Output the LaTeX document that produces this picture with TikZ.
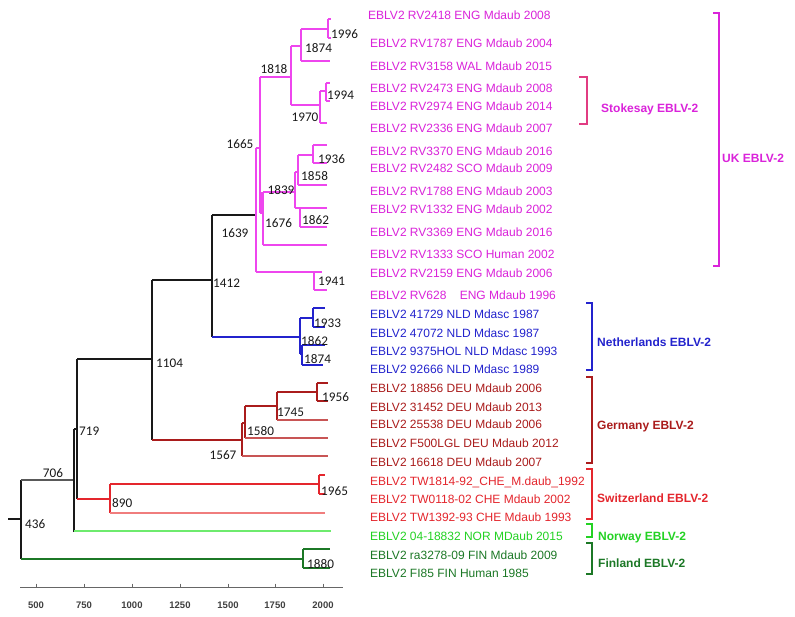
\documentclass[tikz,border=0pt]{standalone}
\usepackage{fontspec}
\setmainfont{Liberation Sans}
\newfontfamily\carl{Carlito}
\definecolor{ukm}{RGB}{218,35,218}
\definecolor{ukl}{RGB}{238,70,238}
\definecolor{nlb}{RGB}{35,35,205}
\definecolor{der}{RGB}{170,28,28}
\definecolor{derl}{RGB}{200,85,85}
\definecolor{chr}{RGB}{228,38,45}
\definecolor{chrl}{RGB}{240,125,125}
\definecolor{nog}{RGB}{35,210,35}
\definecolor{nogl}{RGB}{110,235,110}
\definecolor{fig}{RGB}{28,120,38}
\definecolor{stk}{RGB}{225,60,130}
\definecolor{treec}{RGB}{25,25,25}
\definecolor{yrc}{RGB}{25,25,25}
\tikzset{
  br/.style={line width=1.15pt},
  leaf/.style={anchor=base west, inner sep=0pt, font=\fontsize{12}{14}\selectfont},
  yr/.style={anchor=base west, inner sep=0pt, text=yrc, font=\carl\fontsize{13.2}{15}\selectfont},
  yrc/.style={anchor=base, inner sep=0pt, text=yrc, font=\carl\fontsize{13.2}{15}\selectfont},
  grp/.style={anchor=base west, inner sep=0pt, font=\bfseries\fontsize{12}{14}\selectfont},
  brk/.style={line width=1.3pt},
  tick/.style={anchor=base, inner sep=0pt, text=black!75, font=\bfseries\fontsize{9.5}{11}\selectfont},
}
\begin{document}
\begin{tikzpicture}[x=1pt,y=-1pt]
\useasboundingbox[fill=white] (0,0) rectangle (795,616);

% ---------------- tree: backbone ----------------
\draw[treec, line width=2.2pt] (8,519) coordinate (rootstub) -- (21,519) coordinate (n436);
\draw[br, treec] (21,480) -- (21,559);
\draw[br, black!65] (21,480) -- (74,480) coordinate (n706);
\draw[br, treec] (74,429) -- (74,532);
\draw[br, treec] (74,429) -- (77,429) coordinate (n719);
\draw[br, treec] (77,359) -- (77,499);
% Norway
\draw[br, nogl] (74,531) -- (331,531) coordinate (tNOR);
% Finland
\draw[fig, line width=1.7pt] (21,559) -- (303,559) coordinate (n1880);
\draw[br, fig] (303,549) -- (303,568);
\draw[br, fig] (303,549) -- (330,549) coordinate (tFIN1);
\draw[br, fig] (303,568) -- (330,568) coordinate (tFIN2);
% Switzerland
\draw[br, chr] (77,499) -- (110,499) coordinate (n890);
\draw[br, chr] (110,484) -- (110,513);
\draw[br, chr] (110,484) -- (319,484) coordinate (n1965);
\draw[br, chrl] (110,513) -- (325,513) coordinate (tCH3);
\draw[br, chr] (319,475) -- (319,494);
\draw[br, chr] (319,475) -- (325,475) coordinate (tCH1);
\draw[br, chr] (319,494) -- (325,494) coordinate (tCH2);
% 1104
\draw[br, treec] (77,359) -- (152,359) coordinate (n1104);
\draw[br, treec] (152,280) -- (152,440);
% Germany
\draw[der, line width=1.6pt] (152,440) -- (242,440) coordinate (n1567);
\draw[br, der] (242,423) -- (242,456);
\draw[br, derl] (242,456) -- (328,456) coordinate (tDE5);
\draw[br, der] (242,423) -- (245,423) coordinate (n1580);
\draw[br, der] (245,406) -- (245,438);
\draw[br, derl] (245,438) -- (328,438) coordinate (tDE4);
\draw[br, der] (245,406) -- (277,406) coordinate (n1745);
\draw[br, der] (277,392) -- (277,420);
\draw[br, derl] (277,420) -- (328,420) coordinate (tDE3);
\draw[br, der] (277,392) -- (317,392) coordinate (n1956);
\draw[br, der] (317,383) -- (317,401);
\draw[br, der] (317,383) -- (328,383) coordinate (tDE1);
\draw[br, der] (317,401) -- (328,401) coordinate (tDE2);
% 1412
\draw[br, treec] (152,280) -- (212,280) coordinate (n1412);
\draw[br, treec] (212,215) -- (212,337);
% Netherlands
\draw[br, nlb] (212,337) -- (300,337) coordinate (n1862b);
\draw[br, nlb] (300,318) -- (300,354);
\draw[br, nlb] (300,318) -- (313,318) coordinate (n1933);
\draw[br, nlb] (313,308) -- (313,327);
\draw[br, nlb] (313,308) -- (325,308) coordinate (tNL1);
\draw[br, nlb] (313,327) -- (325,327) coordinate (tNL2);
\draw[br, nlb] (300,354) -- (302,354) coordinate (n1874b);
\draw[br, nlb] (302,345) -- (302,365);
\draw[br, nlb] (302,345) -- (325,345) coordinate (tNL3);
\draw[br, nlb] (302,365) -- (323,365) coordinate (tNL4);
% UK
\draw[br, treec] (212,215) -- (256,215) coordinate (n1639);
\draw[br, ukl] (256,148) -- (256,272);
\draw[br, ukl] (256,272) -- (314,272) coordinate (n1941);
\draw[br, ukl] (314,272) -- (314,290);
\draw[br, ukl] (314,272) -- (322,272) coordinate (tUK13);
\draw[br, ukl] (314,290) -- (327,290) coordinate (tUK14);
\draw[br, ukl] (256,148) -- (260,148) coordinate (n1665);
\draw[br, ukl] (260,77) -- (260,213);
\draw[br, ukl] (260,77) -- (291,77) coordinate (n1818);
\draw[br, ukl] (291,46) -- (291,105);
\draw[br, ukl] (291,46) -- (301,46) coordinate (n1874);
\draw[br, ukl] (301,29) -- (301,61);
\draw[br, ukl] (301,61) -- (330,61) coordinate (tUK3);
\draw[br, ukl] (301,29) -- (328,29) coordinate (n1996);
\draw[br, ukl] (328,19) -- (328,38);
\draw[br, ukl] (328,19) -- (331,19) coordinate (tUK1);
\draw[br, ukl] (328,38) -- (331,38) coordinate (tUK2);
\draw[br, ukl] (291,105) -- (320,105) coordinate (n1970);
\draw[br, ukl] (320,91) -- (320,123);
\draw[br, ukl] (320,123) -- (327,123) coordinate (tUK6);
\draw[br, ukl] (320,91) -- (326,91) coordinate (n1994);
\draw[br, ukl] (326,83) -- (326,101);
\draw[br, ukl] (326,83) -- (330,83) coordinate (tUK4);
\draw[br, ukl] (326,101) -- (330,101) coordinate (tUK5);
\draw[br, ukl] (260,213) -- (263,213) coordinate (n1676);
\draw[ukl, line width=1.8pt] (262,192) -- (262,213);
\draw[br, ukl] (263,192) -- (263,245);
\draw[br, ukl] (263,245) -- (327,245) coordinate (tUK12);
\draw[br, ukl] (263,192) -- (295,192) coordinate (n1839);
\draw[br, ukl] (295,172) -- (295,208);
\draw[br, ukl] (295,172) -- (298,172) coordinate (n1858);
\draw[br, ukl] (298,155) -- (298,185);
\draw[br, ukl] (298,185) -- (327,185) coordinate (tUK9);
\draw[br, ukl] (298,155) -- (313,155) coordinate (n1936);
\draw[br, ukl] (313,145) -- (313,163);
\draw[br, ukl] (313,145) -- (327,145) coordinate (tUK7);
\draw[br, ukl] (313,163) -- (327,163) coordinate (tUK8);
\draw[br, ukl] (295,208) -- (300,208) coordinate (n1862);
\draw[br, ukl] (300,208) -- (300,227);
\draw[br, ukl] (300,208) -- (327,208) coordinate (tUK10);
\draw[br, ukl] (300,227) -- (327,227) coordinate (tUK11);

% ---------------- node ages ----------------
\node[yr]  (a1996)  at (331,38.5) {1996};
\node[yr]  (a1874)  at (305,52.5) {1874};
\node[yrc] (a1818)  at (274,73.5) {1818};
\node[yr]  (a1994)  at (327,99.5) {1994};
\node[yrc] (a1970)  at (305,121.5) {1970};
\node[yrc] (a1665)  at (240,148.5) {1665};
\node[yr]  (a1936)  at (318,163.5) {1936};
\node[yr]  (a1858)  at (301,180.5) {1858};
\node[yrc] (a1839)  at (281,194.5) {1839};
\node[yr]  (a1862)  at (302,224.5) {1862};
\node[yr]  (a1676)  at (265,227.5) {1676};
\node[yrc] (a1639)  at (235,237.5) {1639};
\node[yr]  (a1941)  at (318,285.5) {1941};
\node[yr]  (a1412)  at (213,287.5) {1412};
\node[yr]  (a1933)  at (314,327.5) {1933};
\node[yr]  (a1862b) at (301,345.5) {1862};
\node[yr]  (a1874b) at (304,363.5) {1874};
\node[yr]  (a1104)  at (156,367.5) {1104};
\node[yr]  (a1956)  at (322,401.5) {1956};
\node[yr]  (a1745)  at (277,416.5) {1745};
\node[yr]  (a1580)  at (247,435.5) {1580};
\node[yr]  (a719)   at (79,435.5) {719};
\node[yrc] (a1567)  at (223,459.5) {1567};
\node[yrc] (a706)   at (53,477.5) {706};
\node[yr]  (a1965)  at (321,495.5) {1965};
\node[yr]  (a890)   at (112,507.5) {890};
\node[yr]  (a436)   at (25,528.5) {436};
\node[yr]  (a1880)  at (307,568.5) {1880};

% ---------------- axis ----------------
\draw[black!60, line width=0.9pt] (20,587) coordinate (axl) -- (343,587) coordinate (axr);
\foreach \xx/\lab in {36/500,84/750,132/1000,180/1250,228/1500,275/1750,323/2000}{
  \draw[black!60, line width=0.8pt] (\xx,583.5) -- (\xx,587);
  \node[tick] (t\lab) at (\xx,608) {\lab};
}

% ---------------- leaf labels ----------------
\begin{scope}[every node/.style={leaf}]
\node[text=ukm] (l1)  at (368,19.3)  {EBLV2 RV2418 ENG Mdaub 2008};
\node[text=ukm] (l2)  at (370,47.3)  {EBLV2 RV1787 ENG Mdaub 2004};
\node[text=ukm] (l3)  at (370,70.3)  {EBLV2 RV3158 WAL Mdaub 2015};
\node[text=ukm] (l4)  at (370,92.3)  {EBLV2 RV2473 ENG Mdaub 2008};
\node[text=ukm] (l5)  at (370,110.3) {EBLV2 RV2974 ENG Mdaub 2014};
\node[text=ukm] (l6)  at (370,132.3) {EBLV2 RV2336 ENG Mdaub 2007};
\node[text=ukm] (l7)  at (370,155.3) {EBLV2 RV3370 ENG Mdaub 2016};
\node[text=ukm] (l8)  at (370,172.3) {EBLV2 RV2482 SCO Mdaub 2009};
\node[text=ukm] (l9)  at (370,195.3) {EBLV2 RV1788 ENG Mdaub 2003};
\node[text=ukm] (l10) at (370,213.3) {EBLV2 RV1332 ENG Mdaub 2002};
\node[text=ukm] (l11) at (370,236.3) {EBLV2 RV3369 ENG Mdaub 2016};
\node[text=ukm] (l12) at (370,258.3) {EBLV2 RV1333 SCO Human 2002};
\node[text=ukm] (l13) at (370,277.3) {EBLV2 RV2159 ENG Mdaub 2006};
\node[text=ukm] (l14) at (370,299.3) {EBLV2 RV628\hspace{10pt} ENG Mdaub 1996};
\node[text=nlb] (l15) at (370,318.3) {EBLV2 41729 NLD Mdasc 1987};
\node[text=nlb] (l16) at (370,337.3) {EBLV2 47072 NLD Mdasc 1987};
\node[text=nlb] (l17) at (370,355.3) {EBLV2 9375HOL NLD Mdasc 1993};
\node[text=nlb] (l18) at (370,373.3) {EBLV2 92666 NLD Mdasc 1989};
\node[text=der] (l19) at (370,392.3) {EBLV2 18856 DEU Mdaub 2006};
\node[text=der] (l20) at (370,411.3) {EBLV2 31452 DEU Mdaub 2013};
\node[text=der] (l21) at (370,428.3) {EBLV2 25538 DEU Mdaub 2006};
\node[text=der] (l22) at (370,447.3) {EBLV2 F500LGL DEU Mdaub 2012};
\node[text=der] (l23) at (370,466.3) {EBLV2 16618 DEU Mdaub 2007};
\node[text=chr] (l24) at (370,485.3) {EBLV2 TW1814-92\_CHE\_M.daub\_1992};
\node[text=chr] (l25) at (370,503.3) {EBLV2 TW0118-02 CHE Mdaub 2002};
\node[text=chr] (l26) at (370,521.3) {EBLV2 TW1392-93 CHE Mdaub 1993};
\node[text=nog] (l27) at (370,540.3) {EBLV2 04-18832 NOR MDaub 2015};
\node[text=fig] (l28) at (370,559.3) {EBLV2 ra3278-09 FIN Mdaub 2009};
\node[text=fig] (l29) at (370,577.3) {EBLV2 FI85 FIN Human 1985};
\end{scope}

% ---------------- group brackets ----------------
\draw[brk, ukm] (713,13) -- (719,13) -- (719,266) -- (713,266);
\node[grp, text=ukm] (gUK) at (722,162.3) {UK EBLV-2};
\draw[brk, stk] (579,77) -- (587,77) -- (587,124) -- (579,124);
\node[grp, text=ukm] (gSTK) at (601,112.3) {Stokesay EBLV-2};
\draw[brk, nlb] (586,303) -- (592,303) -- (592,370) -- (586,370);
\node[grp, text=nlb] (gNL) at (597,346.3) {Netherlands EBLV-2};
\draw[brk, der] (586,377) -- (592,377) -- (592,463) -- (586,463);
\node[grp, text=der] (gDE) at (597,429.3) {Germany EBLV-2};
\draw[brk, chr] (586,469) -- (592,469) -- (592,519) -- (586,519);
\node[grp, text=chr] (gCH) at (597,502.3) {Switzerland EBLV-2};
\draw[brk, nog] (586,524) -- (592,524) -- (592,537) -- (586,537);
\node[grp, text=nog] (gNO) at (598,540.3) {Norway EBLV-2};
\draw[brk, fig] (586,543) -- (592,543) -- (592,574) -- (586,574);
\node[grp, text=fig] (gFI) at (598,567.3) {Finland EBLV-2};
\end{tikzpicture}
\end{document}
